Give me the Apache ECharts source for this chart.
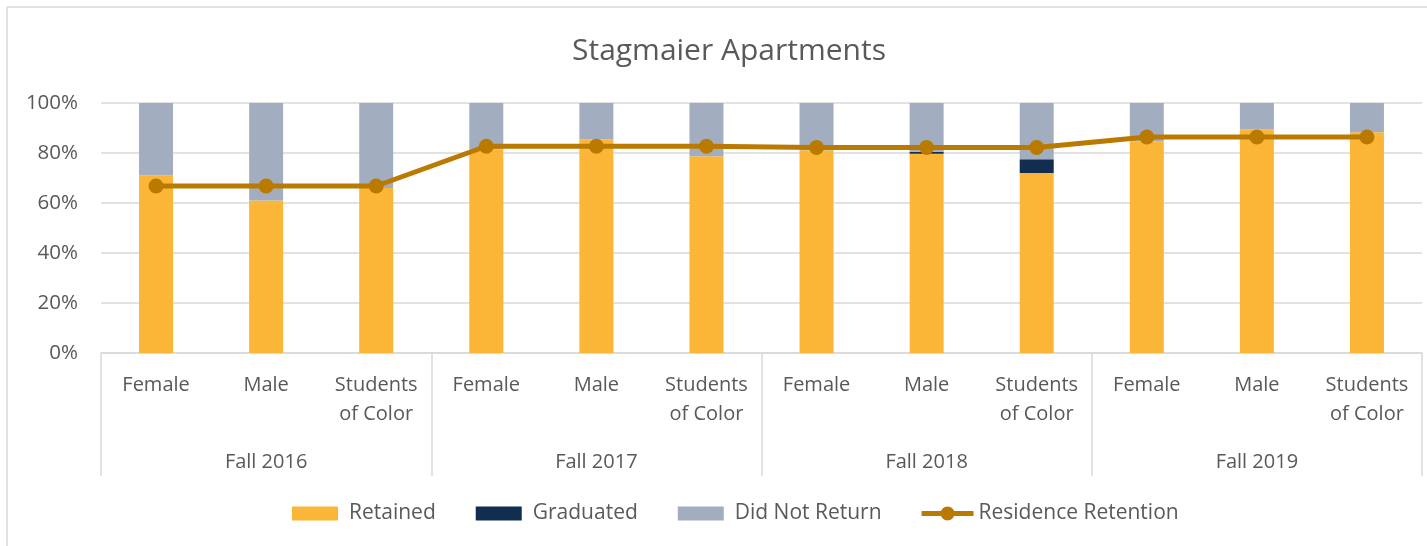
<!DOCTYPE html>
<html>
<head>
<meta charset="utf-8">
<script src="https://cdn.jsdelivr.net/npm/echarts@6/dist/echarts.min.js"></script>
<style>
html,body{margin:0;padding:0;background:#fff;}
#chart{width:1427px;height:546px;}
</style>
</head>
<body>
<div id="chart"></div>
<script>
const groups = ['Fall 2016', 'Fall 2017', 'Fall 2018', 'Fall 2019'];
const categories = ['Female', 'Male', 'Students\nof Color', 'Female', 'Male', 'Students\nof Color',
                    'Female', 'Male', 'Students\nof Color', 'Female', 'Male', 'Students\nof Color'];
const retained     = [71, 61, 66, 81.4, 85.4, 78.7, 81.1, 79.7, 72, 84.7, 89.4, 88.3];
const graduated    = [0, 0, 0, 0, 0, 0, 0, 0.8, 5.5, 0, 0, 0];
const didNotReturn = [29, 39, 34, 18.6, 14.6, 21.3, 18.9, 19.5, 22.5, 15.3, 10.6, 11.7];
const residenceRetention = [66.8, 66.8, 66.8, 82.7, 82.7, 82.7, 82.2, 82.2, 82.2, 86.4, 86.4, 86.4];
const yTicks = [0, 20, 40, 60, 80, 100];

const FONT = 'Open Sans';
const TXT = '#595959';
const GRID = '#d9d9d9';

const RECT_ICON = 'path://M0,0 L46,0 L46,14 L0,14 Z M52,7 L52,7.01 Z';
const LINE_ICON = 'path://M0,0 L0,0.01 Z M0,4.5 L52,4.5 L52,9.5 L0,9.5 Z M19,7 a7,7 0 1,1 14,0 a7,7 0 1,1 -14,0 Z M52,14 L52,14.01 Z';

const chart = echarts.init(document.getElementById('chart'));
chart.setOption({
  animation: false,
  backgroundColor: '#fff',
  title: {
    text: 'Stagmaier Apartments',
    left: 567, top: 31,
    textStyle: { fontFamily: FONT, fontSize: 30, fontWeight: 'normal', color: TXT }
  },
  legend: {
    top: 498, left: 287,
    itemWidth: 52, itemHeight: 14, itemGap: 40,
    textStyle: { fontFamily: FONT, fontSize: 21, color: TXT },
    data: [
      { name: 'Retained', icon: RECT_ICON },
      { name: 'Graduated', icon: RECT_ICON },
      { name: 'Did Not Return', icon: RECT_ICON },
      { name: 'Residence Retention', icon: LINE_ICON }]
  },
  grid: { left: 101, right: 5, top: 103, bottom: 193 },
  xAxis: [
    {
      type: 'category', data: categories, position: 'bottom',
      axisLine: { lineStyle: { color: GRID, width: 1.5 } },
      axisTick: { show: false },
      axisLabel: { interval: 0, fontFamily: FONT, fontSize: 20, color: TXT, margin: 18, lineHeight: 29 }
    },
    {
      type: 'category', data: groups, position: 'bottom', offset: 123,
      axisLine: { show: false },
      axisTick: { show: true, inside: true, length: 123, interval: 0, lineStyle: { color: GRID, width: 1.5 } },
      axisLabel: { inside: true, interval: 0, fontFamily: FONT, fontSize: 20, color: TXT, margin: 4 }
    }
  ],
  yAxis: {
    type: 'value', min: 0, max: 100, interval: 20,
    axisLine: { show: false }, axisTick: { show: false },
    splitLine: { lineStyle: { color: GRID, width: 1.5 } },
    axisLabel: { fontFamily: FONT, fontSize: 20.5, color: TXT, margin: 23,
      formatter: v => yTicks.includes(v) ? v + '%' : '' }
  },
  graphic: [
    { type: 'line', shape: { x1: 7, y1: 7, x2: 1427, y2: 7 }, style: { stroke: GRID, lineWidth: 1.5 } },
    { type: 'line', shape: { x1: 7, y1: 7, x2: 7, y2: 546 }, style: { stroke: GRID, lineWidth: 1.5 } }
  ],
  series: [
    { name: 'Retained', type: 'bar', stack: 's', barWidth: 34, data: retained,
      itemStyle: { color: '#FBB637' } },
    { name: 'Graduated', type: 'bar', stack: 's', barWidth: 34, data: graduated,
      itemStyle: { color: '#112E51' } },
    { name: 'Did Not Return', type: 'bar', stack: 's', barWidth: 34, data: didNotReturn,
      itemStyle: { color: '#A2AEBF' } },
    { name: 'Residence Retention', type: 'line', data: residenceRetention,
      symbol: 'circle', symbolSize: 15, z: 10,
      lineStyle: { color: '#BA7A00', width: 5 },
      itemStyle: { color: '#BA7A00' } }
  ]
});
</script>
</body>
</html>
